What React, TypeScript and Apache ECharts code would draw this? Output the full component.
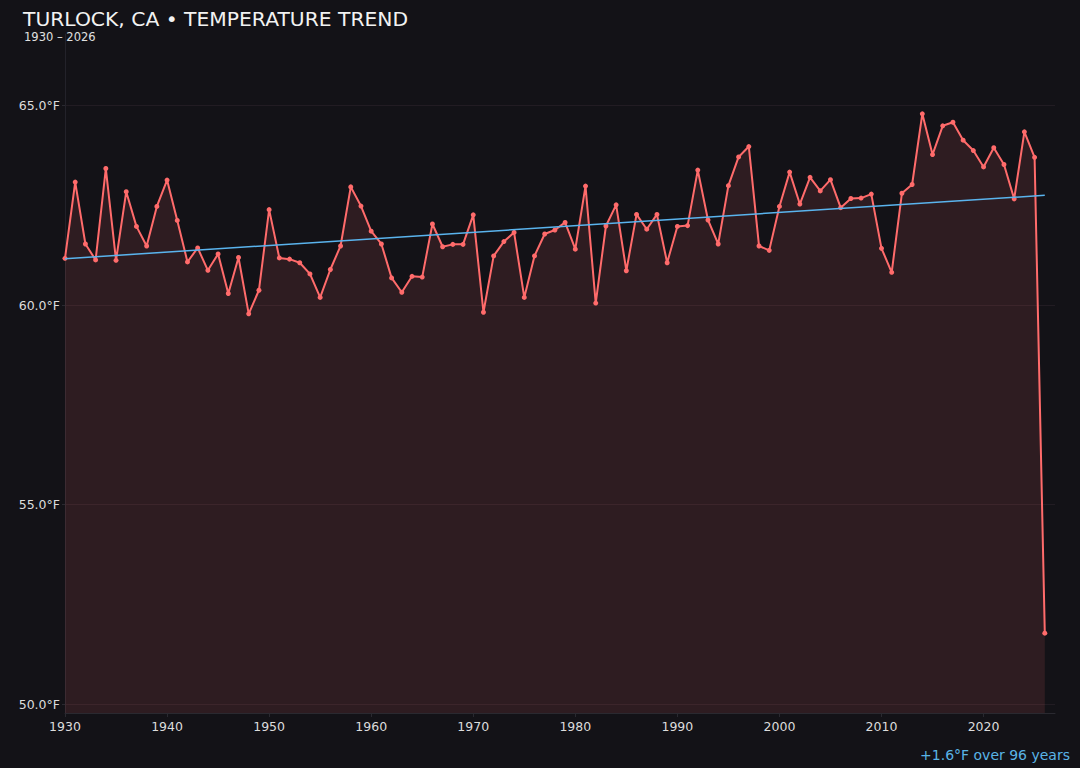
import { useEffect, useRef } from "react";
import * as echarts from "echarts";

const years: number[] = [];
for (let y = 1930; y <= 2026; y++) years.push(y);

// annual mean temperature, °F
const temps = [
  61.17, 63.08, 61.53, 61.13, 63.42, 61.12, 62.84, 61.97, 61.48, 62.47,
  63.13, 62.12, 61.08, 61.43, 60.87, 61.28, 60.29, 61.19, 59.78, 60.37,
  62.39, 61.18, 61.15, 61.06, 60.78, 60.19, 60.89, 61.48, 62.96, 62.48,
  61.85, 61.53, 60.68, 60.32, 60.72, 60.7, 62.03, 61.46, 61.52, 61.52,
  62.26, 59.82, 61.23, 61.59, 61.82, 60.19, 61.23, 61.78, 61.88, 62.07,
  61.4, 62.98, 60.05, 61.98, 62.51, 60.86, 62.27, 61.9, 62.27, 61.06,
  61.97, 61.99, 63.38, 62.13, 61.53, 62.99, 63.71, 63.97, 61.48, 61.37,
  62.47, 63.33, 62.53, 63.2, 62.86, 63.14, 62.44, 62.67, 62.68, 62.78,
  61.42, 60.82, 62.8, 63.02, 64.79, 63.77, 64.49, 64.58, 64.13, 63.87,
  63.46, 63.94, 63.52, 62.66, 64.34, 63.7, 51.78,
];

const trendYears = [1930, 2026];
const trendTemps = [61.16, 62.75];

const yTicks = [50, 55, 60, 65];

export default function App() {
  const chartRef = useRef<HTMLDivElement>(null);

  useEffect(() => {
    if (!chartRef.current) return;
    const chart = echarts.init(chartRef.current, null, { renderer: "svg" });

    const font = "'DejaVu Sans', sans-serif";

    const option: echarts.EChartsOption = {
      animation: false,
      backgroundColor: "#131217",
      grid: { left: 65, right: 25, top: 34, bottom: 55 },
      xAxis: {
        type: "value",
        min: 1930,
        max: 2027,
        interval: 10,
        axisLine: { show: true, lineStyle: { color: "#2a2930" } },
        axisTick: { show: true, length: 4, lineStyle: { color: "#2a2930" } },
        axisLabel: {
          color: "#dcdcdc",
          fontSize: 12.5,
          fontFamily: font,
          margin: 7,
          showMaxLabel: false,
          formatter: (v: number) => String(v),
        },
        splitLine: { show: false },
      },
      yAxis: {
        type: "value",
        min: (v) => v.min - 2,
        max: (v) => v.max + 2,
        axisLine: { show: true, lineStyle: { color: "#23222a" } },
        axisTick: { show: true, length: 3, lineStyle: { color: "#2a2930" }, customValues: yTicks },
        axisLabel: {
          color: "#dcdcdc",
          fontSize: 12.5,
          fontFamily: font,
          margin: 5,
          customValues: yTicks,
          formatter: (v: number) => v.toFixed(1) + "°F",
        },
        splitLine: { show: true, lineStyle: { color: "#221c23", width: 1 } },
      },
      series: [
        {
          type: "line",
          data: years.map((y, i) => [y, temps[i]]),
          symbol: "circle",
          symbolSize: 5,
          lineStyle: { color: "#ff6b6b", width: 2 },
          itemStyle: { color: "#ff6b6b" },
          areaStyle: { color: "rgba(255,107,107,0.17)", origin: "start" },
          z: 3,
        },
        {
          type: "line",
          data: trendYears.map((y, i) => [y, trendTemps[i]]),
          symbol: "none",
          lineStyle: { color: "#5ab4ee", width: 1.5 },
          z: 4,
        },
      ],
      graphic: [
        {
          type: "text",
          left: 23,
          top: 9,
          style: {
            text: "TURLOCK, CA • TEMPERATURE TREND",
            fill: "#f2f2f2",
            fontSize: 20.3,
            lineHeight: 18,
            fontFamily: font,
          },
        },
        {
          type: "text",
          left: 24,
          top: 31,
          style: {
            text: "1930 – 2026",
            fill: "#e0e0e0",
            fontSize: 11.5,
            lineHeight: 11.5,
            fontFamily: font,
          },
        },
        {
          type: "text",
          right: 10,
          top: 748,
          style: {
            text: "+1.6°F over 96 years",
            fill: "#5ab4e6",
            fontSize: 14,
            fontFamily: font,
          },
        },
      ],
    };

    chart.setOption(option);

    const handleResize = () => chart.resize();
    window.addEventListener("resize", handleResize);
    return () => {
      window.removeEventListener("resize", handleResize);
      chart.dispose();
    };
  }, []);

  return (
    <div
      ref={chartRef}
      style={{ position: "fixed", left: 0, top: 0, width: 1080, height: 768 }}
    />
  );
}
